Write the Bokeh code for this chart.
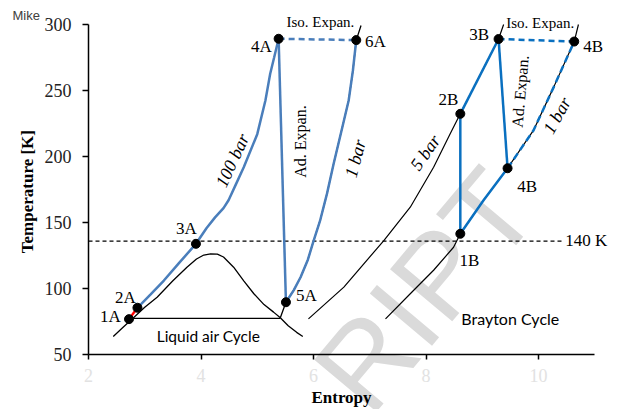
from bokeh.plotting import figure
from bokeh.models import Label, FixedTicker
from bokeh.embed import file_html
from bokeh.resources import INLINE

# ---------------- data ----------------
# saturation dome (air)
dome_s = [2.44, 2.62, 2.80, 3.00, 3.22, 3.50, 3.75, 3.92, 4.05, 4.17, 4.29, 4.40, 4.58, 4.76, 4.94, 5.12, 5.29, 5.41, 5.55, 5.70, 5.81]
dome_T = [63.9, 71.0, 78.0, 86.0, 93.6, 106.0, 116.3, 122.5, 125.5, 126.4, 126.2, 124.0, 116.3, 106.0, 96.2, 88.0, 82.3, 78.0, 72.0, 67.0, 63.9]
liq_s = [2.80, 5.41]
liq_T = [77.5, 77.5]

# Liquid air cycle (A)
a100_s = [2.87, 3.10, 3.34, 3.60, 3.91, 4.10, 4.25, 4.40, 4.49, 4.62, 4.76, 5.00, 5.145, 5.23, 5.30, 5.38]
a100_T = [85.6, 95.5, 106.2, 119.0, 134.0, 146.0, 154.0, 161.0, 167.0, 179.0, 192.0, 217.0, 242.5, 262.7, 275.0, 289.2]
a1_s = [5.41, 5.51, 5.65, 5.77, 5.90, 6.00, 6.12, 6.24, 6.36, 6.50, 6.625, 6.70, 6.76, 6.845]
a1_T = [78.0, 89.8, 99.0, 108.7, 122.0, 136.0, 152.0, 172.0, 195.0, 220.0, 242.5, 265.0, 288.2, 299.2]
ptA_name = ["1A", "2A", "3A", "4A", "5A", "6A"]
ptA_s = [2.72, 2.87, 3.91, 5.38, 5.51, 6.76]
ptA_T = [77.0, 85.6, 134.0, 289.2, 89.8, 288.2]

# Brayton cycle (B)
b5_s = [5.91, 6.54, 7.25, 7.72, 8.135, 8.43, 8.61, 9.29, 9.38]
b5_T = [77.2, 101.2, 136.5, 161.7, 192.0, 217.3, 232.4, 289.0, 300.0]
b1_s = [7.28, 7.72, 8.135, 8.49, 8.61, 9.02, 9.45, 9.91, 10.27, 10.635, 10.71]
b1_T = [77.2, 96.2, 114.0, 131.4, 141.6, 166.8, 191.2, 219.8, 252.6, 287.1, 300.0]
ptB_name = ["1B", "2B", "3B", "4B", "4B"]
ptB_s = [8.61, 8.61, 9.29, 10.635, 9.45]
ptB_T = [141.6, 232.4, 289.0, 287.1, 191.2]

# 140 K reference line
ref_s = [2.0, 10.41]
ref_T = [136.0, 136.0]

x_ticks = [2, 4, 6, 8, 10]
y_ticks = [50, 100, 150, 200, 250, 300]

# ---------------- figure ----------------
# the frame covers the whole canvas; the axes are pinned at s=2 and T=50
W, H = 615, 409
p = figure(width=W, height=H,
           x_range=(2 - 88 / 56.25, 2 + (W - 88) / 56.25),
           y_range=(300 - (H - 24) / 1.3212, 300 + 24 / 1.3212),
           output_backend="svg", toolbar_location=None,
           min_border_left=0, min_border_right=0, min_border_top=0, min_border_bottom=0)
p.title.visible = False
p.outline_line_color = None
p.grid.visible = False
p.background_fill_color = "white"
p.border_fill_color = "white"

SERIF = "Liberation Serif"
BLUE_A = "#4A7EBB"
BLUE_B = "#0A70C0"

for ax in (p.xaxis, p.yaxis):
    ax.axis_line_color = "black"
    ax.axis_line_width = 1.5
    ax.major_tick_line_color = "black"
    ax.major_tick_line_width = 1.5
    ax.major_tick_in = 0
    ax.minor_tick_line_color = None
    ax.major_label_text_font = SERIF
    ax.major_label_text_font_size = "18px"
    ax.axis_label_text_font = SERIF
    ax.axis_label_text_font_style = "bold"
    ax.axis_label_text_font_size = "17px"
    ax.axis_label_text_color = "black"

p.yaxis.fixed_location = 2
p.yaxis.bounds = (50, 300)
p.yaxis.ticker = FixedTicker(ticks=y_ticks)
p.yaxis.major_tick_out = 6
p.yaxis.major_label_standoff = 11
p.yaxis.major_label_text_color = "#222222"
p.yaxis.axis_label = "Temperature  [K]"
p.yaxis.axis_label_standoff = 5

p.xaxis.fixed_location = 50
p.xaxis.bounds = (2, 11)
p.xaxis.ticker = FixedTicker(ticks=x_ticks)
p.xaxis.major_tick_out = 5
p.xaxis.major_label_standoff = 9
p.xaxis.major_label_text_color = "#e2e2e2"
p.xaxis.axis_label = "Entropy"
p.xaxis.axis_label_standoff = 3

# watermark (behind everything)
p.add_layout(Label(x=9.52, y=177.0, text="RIPT", angle=50, angle_units="deg",
                   text_align="right", text_baseline="alphabetic",
                   text_font="Liberation Sans", text_font_size="118px",
                   text_color="#dadada", level="underlay"))

# 140 K line
p.line(ref_s, ref_T, line_color="black", line_width=1.2, line_dash="4 3")

# black isobars and dome
p.line(dome_s, dome_T, line_color="black", line_width=1.3)
p.line(liq_s, liq_T, line_color="black", line_width=1.3)
p.line(a1_s, a1_T, line_color="black", line_width=1.3)
p.line(b5_s, b5_T, line_color="black", line_width=1.2)
p.line(b1_s, b1_T, line_color="black", line_width=1.2)

# cycle A
p.line(ptA_s[0:2], ptA_T[0:2], line_color="red", line_width=2.5)
p.line(a100_s, a100_T, line_color=BLUE_A, line_width=2.5)
p.line([ptA_s[3], ptA_s[4]], [ptA_T[3], ptA_T[4]], line_color=BLUE_A, line_width=2.5)
p.line(a1_s[1:13], a1_T[1:13], line_color=BLUE_A, line_width=2.5)
p.line([ptA_s[3], ptA_s[5]], [ptA_T[3], ptA_T[5]], line_color=BLUE_A, line_width=2.5, line_dash="6 4")

# cycle B
p.line([ptB_s[0], ptB_s[1]], [ptB_T[0], ptB_T[1]], line_color=BLUE_B, line_width=2.5)
p.line([ptB_s[1], ptB_s[2]], [ptB_T[1], ptB_T[2]], line_color=BLUE_B, line_width=2.5)
p.line([ptB_s[2], ptB_s[4]], [ptB_T[2], ptB_T[4]], line_color=BLUE_B, line_width=2.5)
p.line([ptB_s[2], ptB_s[3]], [ptB_T[2], ptB_T[3]], line_color=BLUE_B, line_width=2.5, line_dash="6 4")
p.line(b1_s[4:7], b1_T[4:7], line_color=BLUE_B, line_width=2.5)
p.line(b1_s[6:10], b1_T[6:10], line_color=BLUE_B, line_width=2.5, line_dash="7 4")

# state points
p.scatter(ptA_s, ptA_T, size=9, color="black")
p.scatter(ptB_s, ptB_T, size=9, color="black")


def lab(x, y, t, size="17px", font=SERIF, angle=0, style="normal", align="center", color="black"):
    p.add_layout(Label(x=x, y=y, text=t, angle=angle, angle_units="deg",
                       text_align=align, text_baseline="middle",
                       text_font=font, text_font_size=size, text_font_style=style,
                       text_color=color))


# point labels
lab(2.391, 79.0, ptA_name[0])
lab(2.657, 93.4, ptA_name[1])
lab(3.741, 145.6, ptA_name[2])
lab(5.074, 283.3, ptA_name[3])
lab(5.873, 94.9, ptA_name[4])
lab(7.10, 287.1, ptA_name[5])
lab(8.77, 121.4, ptB_name[0])
lab(8.397, 243.2, ptB_name[1])
lab(8.947, 292.4, ptB_name[2])
lab(10.973, 283.3, ptB_name[3])
lab(9.80, 177.4, ptB_name[4])

lab(10.476, 136.5, "140 K", align="left")
lab(6.122, 301.7, "Iso. Expan.", size="15px")
lab(10.03, 301.5, "Iso. Expan.", size="15px")
lab(5.767, 211.4, "Ad. Expan.", size="16px", angle=90)
lab(9.676, 249.3, "Ad. Expan.", size="16px", angle=85)
lab(4.559, 197.1, "100 bar", size="18px", angle=65, style="italic")
lab(6.744, 198.6, "1 bar", size="18px", angle=75, style="italic")
lab(7.988, 203.1, "5 bar", size="18px", angle=55, style="italic")
lab(10.33, 231.1, "1 bar", size="18px", angle=61, style="italic")

lab(4.132, 63.9, "Liquid air Cycle", size="15.5px", font="Lato")
lab(9.498, 77.5, "Brayton Cycle", size="16px", font="Lato")
lab(0.649, 306.8, "Mike", size="13px", font="Liberation Sans", align="left", color="#404040")

open("out.html", "w").write(file_html(p, INLINE))
